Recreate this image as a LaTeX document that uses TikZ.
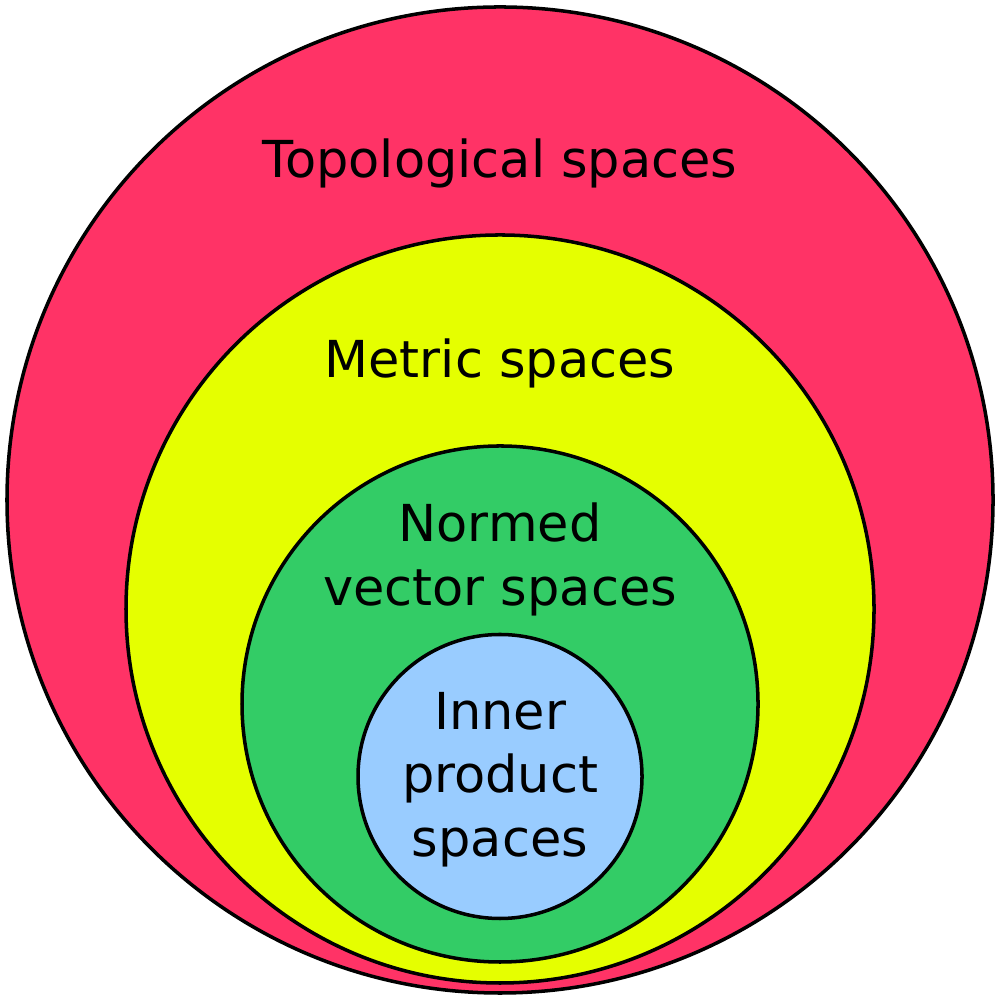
\documentclass[tikz,border=0pt]{standalone}
\usepackage{fontspec}
\setmainfont{DejaVu Sans}
\usepackage{tikz}
\definecolor{sp-topo}{HTML}{FF3366}
\definecolor{sp-metric}{HTML}{E5FF00}
\definecolor{sp-normed}{HTML}{33CC66}
\definecolor{sp-inner}{HTML}{99CCFF}
\tikzset{
  setline/.style={draw=black, line width=1pt},
  setlabel/.style={align=center, inner sep=0pt, font=\fontsize{14.5}{18}\selectfont},
}
\begin{document}
\begin{tikzpicture}
    \useasboundingbox (0,0) rectangle (10,10);
    \fill[sp-topo, setline] (5,5) circle (4.93);
    \fill[sp-metric, setline] (5,3.91) circle (3.74);
    \fill[sp-normed, setline] (5,2.96) circle (2.58);
    \fill[sp-inner, setline] (5,2.235) circle (1.42);
    \node[setlabel] (topo) at (5,8.365) {Topological spaces};
    \node[setlabel] (metric) at (5,6.365) {Metric spaces};
    \node[setlabel] (normed) at (5,4.405) {Normed\\vector spaces};
    \node[setlabel] (inner) at (5,2.205) {Inner\\product\\spaces};
\end{tikzpicture}
\end{document}
